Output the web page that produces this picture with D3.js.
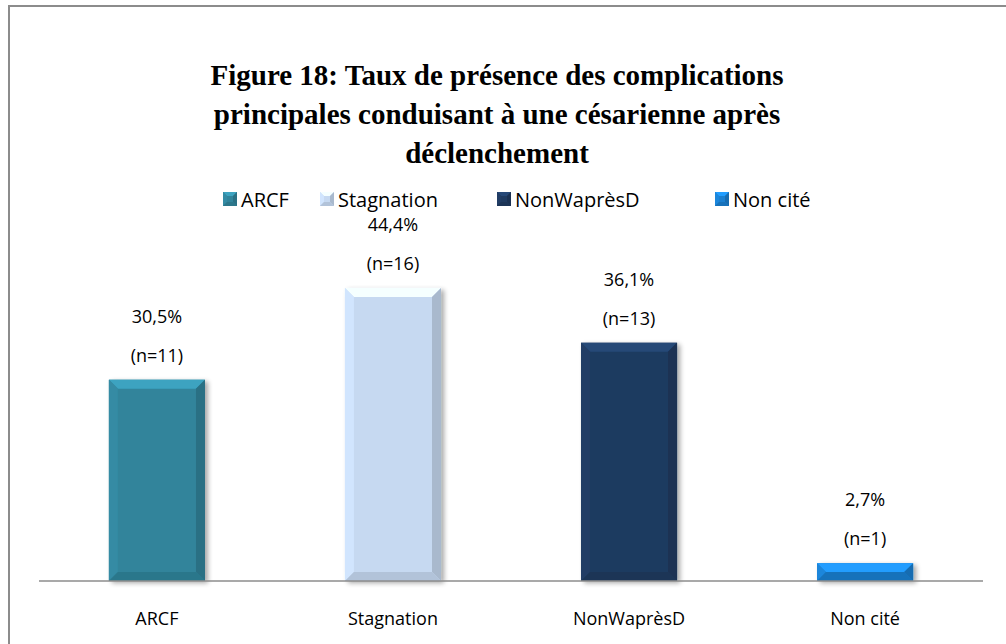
<!DOCTYPE html>
<html>
<head>
<meta charset="utf-8">
<script src="https://cdn.jsdelivr.net/npm/d3@7"></script>
<style>
  body { margin: 0; background: #fff; }
  text { font-family: "Open Sans", "Noto Sans", sans-serif; }
</style>
</head>
<body>
<div id="chart"></div>
<script>
// chart data
const categories = ["ARCF", "Stagnation", "NonWaprèsD", "Non cité"];
const percents = [30.5, 44.4, 36.1, 2.7];
const counts = [11, 16, 13, 1];
const percentLabels = ["30,5%", "44,4%", "36,1%", "2,7%"];
const colors = ["#31849b", "#c6d9f1", "#1f3a60", "#1a7fd0"];
const titleLines = [
  "Figure 18: Taux de présence des complications",
  "principales conduisant à une césarienne après",
  "déclenchement"
];

const width = 1006;
const height = 644;

const svg = d3.select("#chart")
  .append("svg")
  .attr("width", width)
  .attr("height", height);

// outer frame
svg.append("rect")
  .attr("x", 9).attr("y", 6)
  .attr("width", 1010).attr("height", 660)
  .attr("fill", "#fff")
  .attr("stroke", "#8c8c8c")
  .attr("stroke-width", 2);

// title
svg.append("g").selectAll("text")
  .data(titleLines)
  .enter().append("text")
  .attr("x", 497)
  .attr("y", (d, i) => 85 + i * 39)
  .attr("text-anchor", "middle")
  .style("font-family", "'Liberation Serif', 'Times New Roman', serif")
  .style("font-weight", "bold")
  .style("font-size", "29px")
  .attr("fill", "#000")
  .text(d => d);

// scales
const x = d3.scaleBand()
  .domain(categories)
  .range([39, 983])
  .paddingInner(0.593)
  .paddingOuter(0.296);

const y = d3.scaleLinear()
  .domain([0, 50])
  .range([581, 251]);

const color = d3.scaleOrdinal().domain(categories).range(colors);

// soft shadow for bars
const defs = svg.append("defs");
const shadow = defs.append("filter").attr("id", "shadow")
  .attr("x", "-20%").attr("y", "-20%").attr("width", "140%").attr("height", "140%");
shadow.append("feGaussianBlur").attr("in", "SourceAlpha").attr("stdDeviation", 2.5);
shadow.append("feOffset").attr("dx", 3).attr("dy", 2).attr("result", "blur");
shadow.append("feComponentTransfer").append("feFuncA").attr("type", "linear").attr("slope", 0.35);
const merge = shadow.append("feMerge");
merge.append("feMergeNode");
merge.append("feMergeNode").attr("in", "SourceGraphic");

// draw a bevelled box
function bevel(g, x0, y0, w, h, c, b) {
  b = Math.min(b, h / 2, w / 2);
  const base = d3.color(c);
  g.append("rect")
    .attr("x", x0).attr("y", y0).attr("width", w).attr("height", h)
    .attr("fill", base);
  const pts = {
    top: [[x0, y0], [x0 + w, y0], [x0 + w - b, y0 + b], [x0 + b, y0 + b]],
    left: [[x0, y0], [x0 + b, y0 + b], [x0 + b, y0 + h - b], [x0, y0 + h]],
    right: [[x0 + w, y0], [x0 + w, y0 + h], [x0 + w - b, y0 + h - b], [x0 + w - b, y0 + b]],
    bottom: [[x0, y0 + h], [x0 + b, y0 + h - b], [x0 + w - b, y0 + h - b], [x0 + w, y0 + h]]
  };
  const shade = {
    top: base.brighter(0.6),
    left: base.brighter(0.15),
    right: base.darker(0.45),
    bottom: base.darker(0.3)
  };
  Object.keys(pts).forEach(k => {
    g.append("polygon")
      .attr("points", pts[k].map(p => p.join(",")).join(" "))
      .attr("fill", shade[k]);
  });
}

// bars
const bars = svg.append("g").attr("filter", "url(#shadow)");
categories.forEach((c, i) => {
  const g = bars.append("g");
  bevel(g, x(c), y(percents[i]), x.bandwidth(), y(0) - y(percents[i]), color(c), 9);
});

// axis line
svg.append("line")
  .attr("x1", 39).attr("x2", 983)
  .attr("y1", y(0)).attr("y2", y(0))
  .attr("stroke", "#8c8c8c")
  .attr("stroke-width", 1.5);

// category labels
svg.append("g").selectAll("text")
  .data(categories)
  .enter().append("text")
  .attr("x", d => x(d) + x.bandwidth() / 2)
  .attr("y", 625)
  .attr("text-anchor", "middle")
  .style("font-size", "18px")
  .attr("fill", "#000")
  .text(d => d);

// value labels
const labels = svg.append("g");
categories.forEach((c, i) => {
  const cx = x(c) + x.bandwidth() / 2;
  const top = y(percents[i]);
  labels.append("text")
    .attr("x", cx).attr("y", top - 57)
    .attr("text-anchor", "middle")
    .style("font-size", "18px")
    .text(percentLabels[i]);
  labels.append("text")
    .attr("x", cx).attr("y", top - 18)
    .attr("text-anchor", "middle")
    .style("font-size", "18px")
    .text("(n=" + counts[i] + ")");
});

// legend
const legendX = [223, 320, 497, 715];
const legend = svg.append("g");
categories.forEach((c, i) => {
  const g = legend.append("g");
  bevel(g, legendX[i], 192, 14, 14, color(c), 4);
  legend.append("text")
    .attr("x", legendX[i] + 18)
    .attr("y", 207)
    .style("font-size", "20px")
    .text(c);
});
</script>
</body>
</html>
